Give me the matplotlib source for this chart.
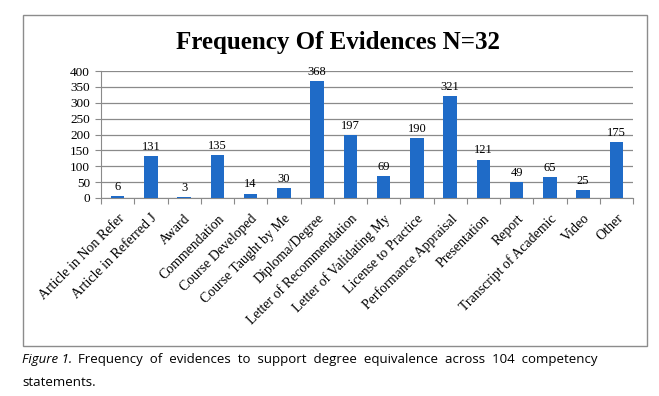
import matplotlib
matplotlib.use("Agg")
import matplotlib.pyplot as plt
from matplotlib.patches import Rectangle

categories = ["Article in Non Refer", "Article in Referred J", "Award", "Commendation",
              "Course Developed", "Course Taught by Me", "Diploma/Degree",
              "Letter of Recommendation", "Letter of Validating My", "License to Practice",
              "Performance Appraisal", "Presentation", "Report", "Transcript of Academic",
              "Video", "Other"]
counts = [6, 131, 3, 135, 14, 30, 368, 197, 69, 190, 321, 121, 49, 65, 25, 175]
y_ticks = [0, 50, 100, 150, 200, 250, 300, 350, 400]

BAR_COLOR = "#1F6BC7"
SERIF = ["Liberation Serif", "DejaVu Serif"]

fig = plt.figure(figsize=(6.59, 3.96), dpi=100)

# chart frame (as in the pasted Excel chart)
fig.patches.append(Rectangle((23 / 659, 1 - 346 / 396), 624 / 659, 331 / 396,
                             transform=fig.transFigure, fill=False,
                             edgecolor="#8c8c8c", linewidth=1.0))

ax = fig.add_axes([101 / 659, 1 - 198 / 396, 532 / 659, 127 / 396])
x = range(len(categories))
bars = ax.bar(x, counts, width=0.4, color=BAR_COLOR, zorder=3)

ax.set_xlim(-0.5, len(categories) - 0.5)
ax.set_ylim(0, 400)
ax.set_yticks(y_ticks)
ax.set_yticklabels([str(v) for v in y_ticks], fontfamily=SERIF, fontsize=9.5)
ax.yaxis.grid(True, color="#8a8a8a", linewidth=0.9, zorder=0)
ax.tick_params(axis="y", length=4, color="#8a8a8a", pad=4)

# category boundaries as tick marks, labels at bar centers
ax.set_xticks([i - 0.5 for i in range(len(categories) + 1)])
ax.set_xticklabels([])
ax.tick_params(axis="x", length=4, color="#8a8a8a")
ax.set_xticks(list(x), minor=True)
ax.set_xticklabels(categories, minor=True, rotation=45, ha="right",
                   rotation_mode="anchor", fontfamily=SERIF, fontsize=10)
ax.tick_params(axis="x", which="minor", length=0, pad=10)

for s in ["top", "right"]:
    ax.spines[s].set_visible(False)
for s in ["left", "bottom"]:
    ax.spines[s].set_color("#8a8a8a")

for b, v in zip(bars, counts):
    ax.text(b.get_x() + b.get_width() / 2, v + 10, str(v), ha="center", va="bottom",
            fontfamily=SERIF, fontsize=9)

fig.text(338 / 659, 1 - 42 / 396, "Frequency Of Evidences N=32", ha="center", va="center",
         fontfamily=SERIF, fontsize=18, fontweight="bold")

cap_font = ["Open Sans", "DejaVu Sans"]
fig.text(22 / 659, 1 - 359 / 396, "Figure 1.", ha="left", va="center",
         fontfamily=cap_font, fontsize=9.5, style="italic")
fig.text(597 / 659, 1 - 359 / 396,
         "Frequency  of  evidences  to  support  degree  equivalence  across  104  competency",
         ha="right", va="center", fontfamily=cap_font, fontsize=9.5)
fig.text(22 / 659, 1 - 382 / 396, "statements.", ha="left", va="center",
         fontfamily=cap_font, fontsize=9.5)

fig.savefig("out.png", dpi=100)
